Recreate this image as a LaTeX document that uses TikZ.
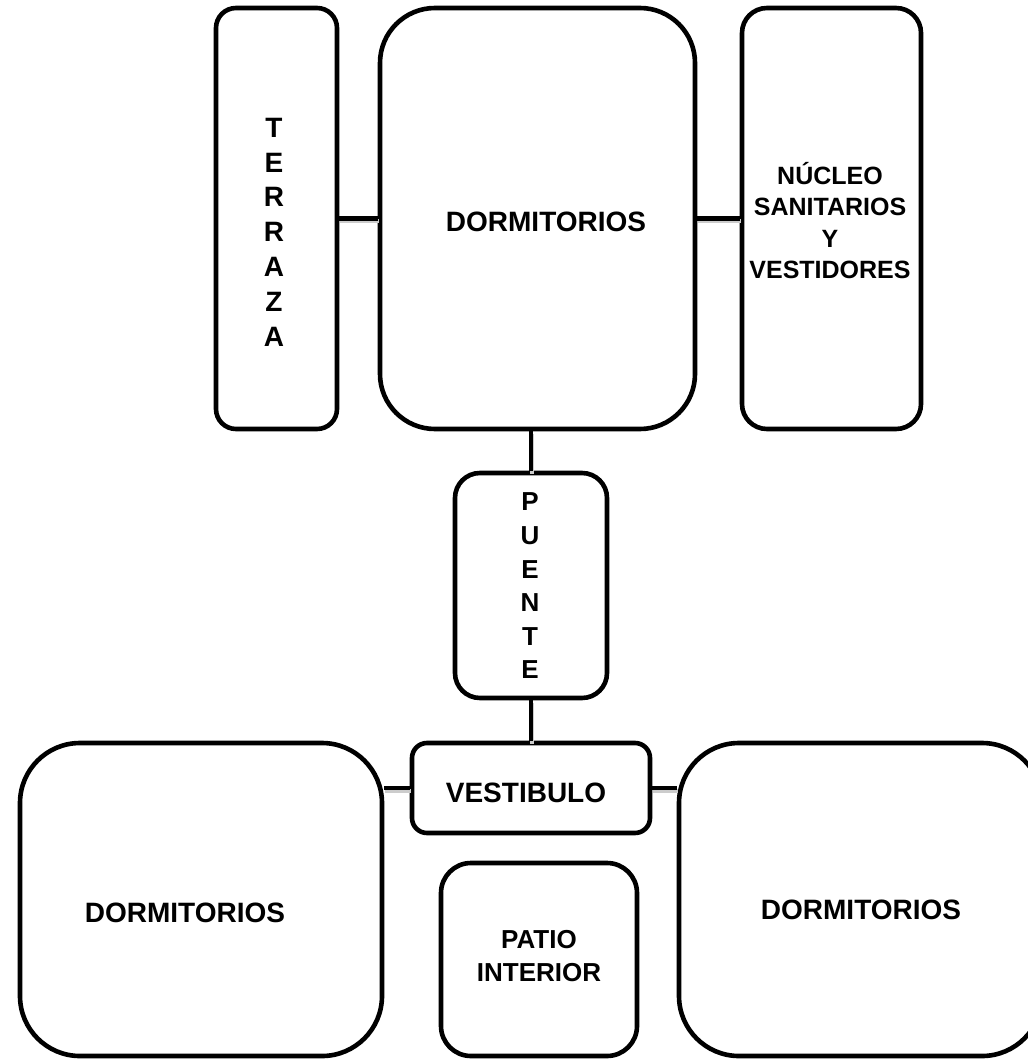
\documentclass[tikz,border=0pt]{standalone}
\usepackage{fontspec}
\setmainfont{Liberation Sans}
\usepackage{tikz}
\usetikzlibrary{calc}
\tikzset{
  room/.style={draw=black, line width=4.6pt, fill=white, inner sep=0pt},
  link/.style={line width=4.6pt, preaction={draw=black!20, line width=4pt, transform canvas={shift={(1pt,-3pt)}}}},
  lbl/.style={font=\bfseries\fontsize{28}{34.8}\selectfont, align=center, inner sep=0pt},
}

\begin{document}
\begin{tikzpicture}[x=1pt, y=-1pt]
  \useasboundingbox (0,0) rectangle (1027,1059);
  % rooms
  \node[room, rounded corners=20pt, minimum width=121pt, minimum height=421pt] (terraza) at (276.5,218.5) {};
  \node[room, rounded corners=55pt, minimum width=315pt, minimum height=421pt] (dormA) at (537.5,218.5) {};
  \node[room, rounded corners=25pt, minimum width=179pt, minimum height=421pt] (nucleo) at (831.5,218.5) {};
  \node[room, rounded corners=25pt, minimum width=152pt, minimum height=225pt] (puente) at (531,585.5) {};
  \node[room, rounded corners=15pt, minimum width=238pt, minimum height=90pt] (vestibulo) at (531,788) {};
  \node[room, rounded corners=60pt, minimum width=362pt, minimum height=313pt] (dormB) at (201,899.5) {};
  \node[room, rounded corners=60pt, minimum width=363pt, minimum height=313pt] (dormC) at (860.5,899.5) {};
  \node[room, rounded corners=30pt, minimum width=196pt, minimum height=193pt] (patio) at (539,959.5) {};
  % connections
  \draw[link] (terraza.east) -- (dormA.west);
  \draw[link] (dormA.east) -- (nucleo.west);
  \draw[link] (puente.north) -- (puente.north |- dormA.south);
  \draw[link] (puente.south) -- (vestibulo.north);
  \draw[link] (vestibulo.west) -- (vestibulo.west -| dormB.east);
  \draw[link] (vestibulo.east) -- (vestibulo.east -| dormC.west);
  % names
  \node[lbl] (terraza-t) at (274,232) {T\\E\\R\\R\\A\\Z\\A};
  \node[lbl] (dormA-t) at (546,222) {DORMITORIOS};
  \node[lbl, font=\bfseries\fontsize{25}{31.5}\selectfont] (nucleo-t) at (830,220.5) {NÚCLEO\\SANITARIOS\\Y\\VESTIDORES};
  \node[lbl, font=\bfseries\fontsize{26}{33.6}\selectfont] (puente-t) at (530,586) {P\\U\\E\\N\\T\\E};
  \node[lbl] (vestibulo-t) at (526,793) {VESTIBULO};
  \node[lbl] (dormB-t) at (185,913) {DORMITORIOS};
  \node[lbl] (dormC-t) at (861,910) {DORMITORIOS};
  \node[lbl, font=\bfseries\fontsize{26}{33}\selectfont] (patio-t) at (539,956) {PATIO\\INTERIOR};
\end{tikzpicture}
\end{document}
